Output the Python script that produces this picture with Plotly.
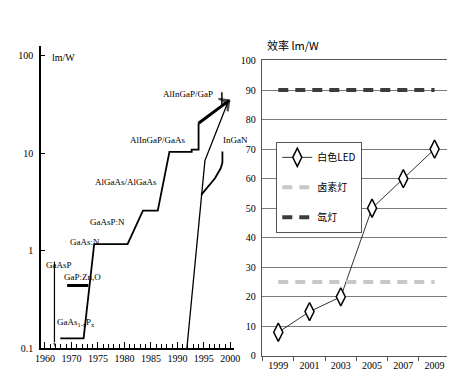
import plotly.graph_objects as go

W, H = 455, 382
def px(x): return x / W
def py(y): return 1 - y / H

# ---------------- Left panel data (lm/W vs year, log scale) ----------------
main_years = [1967.9, 1972.3, 1974.3, 1980.6, 1983.5, 1986.3, 1988.5, 1992.7, 1992.7, 1994.0, 1994.0]
main_eff = [0.126, 0.126, 1.17, 1.17, 2.57, 2.57, 10.3, 10.3, 10.9, 10.9, 20.3]
alingap_years = [1994.0, 1999.8]
alingap_eff = [20.3, 34.8]
gap_mark_years = [1998.4, 1998.4]
gap_mark_eff = [31.3, 42.3]
gaasp_years = [1966.8, 1966.8]
gaasp_eff = [0.77, 0.1]
gapzno_years = [1969.2, 1973.2]
gapzno_eff = [0.44, 0.44]
ingan_years = [1991.8, 1994.5, 1995.2, 1999.6]
ingan_eff = [0.1, 3.73, 8.4, 34.1]
ingan2_years = [1994.5, 1997.1, 1998.2, 1998.5, 1998.5]
ingan2_eff = [3.73, 5.53, 7.04, 8.03, 10.4]
left_tickvals = [1965, 1970, 1975, 1980, 1985, 1990, 1995, 2000]
left_ticktext = ["1960", "1970", "1975", "1980", "1985", "1990", "1995", "2000"]
left_yticks = [0.1, 1, 10, 100]
left_yticktext = ["0.1", "1", "10", "100"]

# ---------------- Right panel data ----------------
years = ["1999", "2001", "2003", "2005", "2007", "2009"]
white_led = [8, 15, 20, 50, 60, 70]
halogen = [25, 25, 25, 25, 25, 25]
xenon = [90, 90, 90, 90, 90, 90]
right_yticks = [0, 10, 20, 30, 40, 50, 60, 70, 80, 90, 100]

SERIF = "Liberation Serif"
CJK = "Noto Sans CJK SC"

fig = go.Figure()

def left_line(x, y, width=2, **kw):
    fig.add_trace(go.Scatter(x=x, y=y, mode="lines", xaxis="x", yaxis="y",
                             line=dict(color="black", width=width), showlegend=False,
                             hoverinfo="skip", **kw))

left_line(main_years, main_eff, width=1.8)
fig.add_trace(go.Scatter(x=alingap_years, y=alingap_eff, mode="lines+markers", xaxis="x", yaxis="y",
                         line=dict(color="black", width=3),
                         marker=dict(symbol="arrow-wide-open", size=[0, 11], angleref="previous",
                                     color="black", line=dict(width=2, color="black")),
                         showlegend=False, hoverinfo="skip"))
left_line(gap_mark_years, gap_mark_eff, width=1.5)
fig.add_trace(go.Scatter(x=gaasp_years, y=gaasp_eff, mode="lines+markers", xaxis="x", yaxis="y",
                         line=dict(color="black", width=1.2),
                         marker=dict(symbol="arrow", size=[0, 6], angleref="previous", color="black"),
                         showlegend=False, hoverinfo="skip"))
left_line(gapzno_years, gapzno_eff, width=3)
left_line(ingan_years, ingan_eff, width=1.3)
left_line(ingan2_years, ingan2_eff, width=1.8)

# ---------------- Right panel traces ----------------
fig.add_trace(go.Scatter(x=years, y=white_led, mode="lines+markers", name="白色LED",
                         xaxis="x2", yaxis="y2", legendgroup="a",
                         line=dict(color="black", width=0.8),
                         marker=dict(symbol="diamond-tall", size=13, color="white",
                                     line=dict(color="black", width=1.5))))
fig.add_trace(go.Scatter(x=years, y=halogen, mode="lines", name="卤素灯",
                         xaxis="x2", yaxis="y2", legendgroup="b",
                         line=dict(color="#c8c8c8", width=4, dash="10px,7px")))
fig.add_trace(go.Scatter(x=years, y=xenon, mode="lines", name="氙灯",
                         xaxis="x2", yaxis="y2", legendgroup="c",
                         line=dict(color="#3c3c3c", width=4, dash="10px,7px")))

# ---------------- Layout ----------------
fig.update_layout(
    width=W, height=H,
    margin=dict(l=0, r=0, t=0, b=0),
    paper_bgcolor="white", plot_bgcolor="white",
    font=dict(family=SERIF, size=10, color="black"),
    xaxis=dict(domain=[px(28), px(226)], range=[1964.3, 2000.6],
               tickvals=left_tickvals, ticktext=left_ticktext,
               showgrid=False, zeroline=False, showline=True, linecolor="black", linewidth=2,
               ticks="inside", ticklen=6, tickcolor="black",
               minor=dict(ticks="inside", ticklen=4, dtick=1, tick0=1965, tickcolor="black"),
               tickfont=dict(family=SERIF, size=10), anchor="y"),
    yaxis=dict(domain=[py(345), py(33)], type="log", range=[-1, 2.1],
               tickvals=left_yticks, ticktext=left_yticktext,
               showgrid=False, zeroline=False, showline=True, linecolor="black", linewidth=2,
               ticks="inside", ticklen=4, tickcolor="black",
               tickfont=dict(family=SERIF, size=10), ticklabelstandoff=4, anchor="x"),
    xaxis2=dict(domain=[px(255), px(450)], type="category", range=[-0.53, 5.53],
                showgrid=False, zeroline=False, showline=True, linecolor="#555", linewidth=1,
                mirror=True, ticks="outside", ticklen=4, tickcolor="#555", tickson="boundaries",
                tickfont=dict(family=SERIF, size=10), anchor="y2"),
    yaxis2=dict(domain=[py(353), py(48)], range=[0, 100], tickvals=right_yticks,
                showgrid=True, gridcolor="#7a7a7a", gridwidth=1, zeroline=False,
                showline=True, linecolor="#555", linewidth=1, mirror=True,
                ticks="", tickfont=dict(family=SERIF, size=10), ticklabelstandoff=3, anchor="x2"),
    legend=dict(x=px(270), y=py(132), xanchor="left", yanchor="top",
                bgcolor="white", bordercolor="#555", borderwidth=1,
                font=dict(family=CJK, size=10), tracegroupgap=11, itemwidth=30),
    showlegend=True,
)

def ann(text, x, y, xanchor="center", size=10, family=SERIF):
    fig.add_annotation(text=text, x=px(x), y=py(y), xref="paper", yref="paper",
                       xanchor=xanchor, yanchor="middle", showarrow=False,
                       font=dict(family=family, size=size, color="black"))

ann("lm/W", 37, 45, xanchor="left", size=10)
ann("AlInGaP/GaP", 207, 83, xanchor="right", size=9)
ann("AlInGaP/GaAs", 178, 130, xanchor="right", size=9)
ann("InGaN", 213, 130, xanchor="left", size=9)
ann("AlGaAs/AlGaAs", 149, 173, xanchor="right", size=9)
ann("GaAsP:N", 76, 215, xanchor="left", size=9)
ann("GaAs:N", 56, 235, xanchor="left", size=9)
ann("GaAsP", 31, 259, xanchor="left", size=9)
ann("GaP:Zn,O", 49, 272, xanchor="left", size=9)
ann("GaAs<sub>1-x</sub>P<sub>x</sub>", 42, 318, xanchor="left", size=9)
ann("效率 lm/W", 258, 32, xanchor="left", size=11, family=CJK)

fig.write_html("out.html")
